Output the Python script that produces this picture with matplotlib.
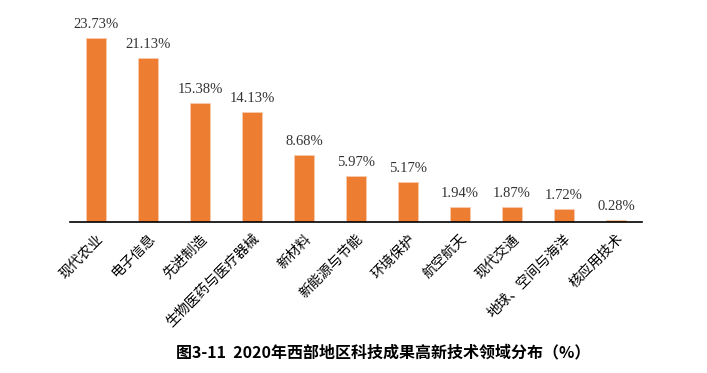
import numpy as np
import matplotlib.pyplot as plt

# categories and shares (%)
fields = ["现代农业", "电子信息", "先进制造", "生物医药与医疗器械", "新材料",
          "新能源与节能", "环境保护", "航空航天", "现代交通", "地球、空间与海洋", "核应用技术"]
shares = [23.73, 21.13, 15.38, 14.13, 8.68, 5.97, 5.17, 1.94, 1.87, 1.72, 0.28]

cn_font = ["Noto Sans CJK SC", "DejaVu Sans"]
num_font = ["Liberation Serif", "DejaVu Serif"]

fig = plt.figure(figsize=(7.07, 3.73), dpi=100)
ax = fig.add_axes([0.099, 0.405, 0.809, 0.52])

x = np.arange(len(fields))
bars = ax.bar(x, shares, width=0.4, color="#ED7D31", edgecolor="#F8CBAD", linewidth=0.6)

for xi, v in zip(x, shares):
    ax.annotate(f"{v:.2f}%", (xi, v), xytext=(0, 5), textcoords="offset points",
                ha="center", va="bottom", fontsize=10.5, color="#333333",
                family=num_font, annotation_clip=False)

ax.set_xlim(-0.5, len(fields) - 0.5)
ax.set_ylim(0, 25)
ax.set_xticks(x)
ax.set_xticklabels(fields, rotation=45, ha="right", rotation_mode="anchor",
                   family=cn_font, fontsize=10)
ax.tick_params(axis="x", length=0, pad=7)
ax.set_yticks([])
for s in ["top", "right", "left"]:
    ax.spines[s].set_visible(False)
ax.spines["bottom"].set_linewidth(1.2)
ax.spines["bottom"].set_color("black")

fig.text(0.542, 0.056, "图3-11  2020年西部地区科技成果高新技术领域分布（%）",
         ha="center", va="center", fontsize=11.5, fontweight="bold", family=cn_font)

fig.savefig("out.png", dpi=100)
